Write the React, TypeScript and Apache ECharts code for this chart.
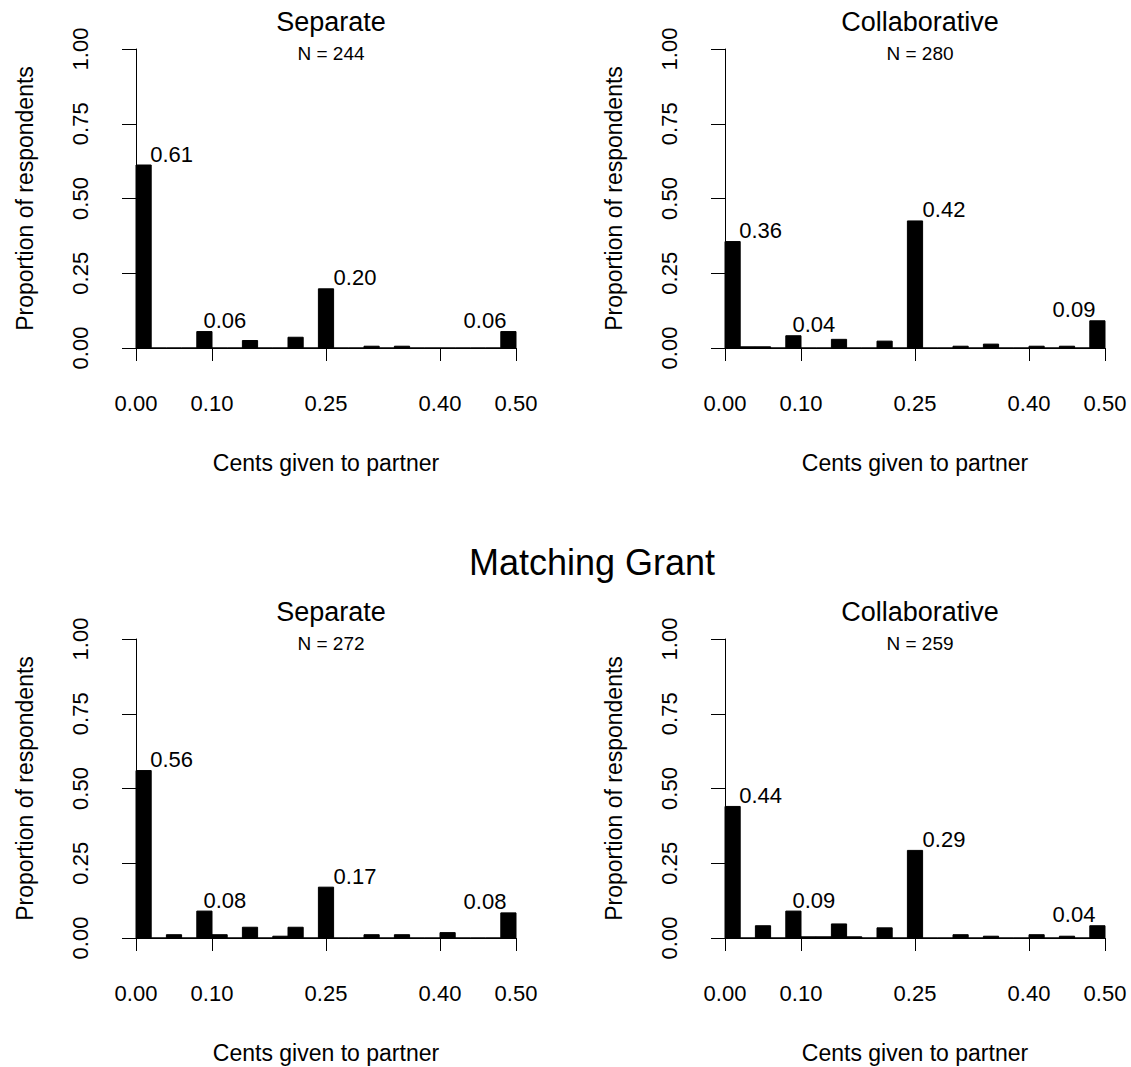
import React, { useEffect, useRef } from "react";
import * as echarts from "echarts";

// ---------- data ----------
const binStarts = [
  0.0, 0.02, 0.04, 0.06, 0.08, 0.1, 0.12, 0.14, 0.16, 0.18, 0.2, 0.22, 0.24,
  0.26, 0.28, 0.3, 0.32, 0.34, 0.36, 0.38, 0.4, 0.42, 0.44, 0.46, 0.48,
];
const binWidth = 0.02;

// proportions per bin (25 bins of 2 cents)
const separateNoGrant = [
  0.612, 0, 0, 0, 0.055, 0, 0, 0.025, 0, 0, 0.036, 0, 0.198, 0, 0, 0.006, 0,
  0.006, 0, 0, 0, 0, 0, 0, 0.055,
];
const collabNoGrant = [
  0.356, 0.004, 0.004, 0, 0.041, 0, 0, 0.029, 0, 0, 0.023, 0, 0.425, 0, 0,
  0.006, 0, 0.013, 0, 0, 0.006, 0, 0.006, 0, 0.091,
];
const separateGrant = [
  0.56, 0, 0.011, 0, 0.09, 0.011, 0, 0.036, 0, 0.006, 0.036, 0, 0.17, 0, 0,
  0.011, 0, 0.011, 0, 0, 0.018, 0, 0, 0, 0.084,
];
const collabGrant = [
  0.44, 0, 0.041, 0, 0.09, 0.004, 0.004, 0.047, 0.004, 0, 0.034, 0, 0.293, 0,
  0, 0.011, 0, 0.006, 0, 0, 0.011, 0, 0.006, 0, 0.041,
];

const labeledBins = [0, 4, 12, 24];
const labelsSeparateNoGrant = ["0.61", "0.06", "0.20", "0.06"];
const labelsCollabNoGrant = ["0.36", "0.04", "0.42", "0.09"];
const labelsSeparateGrant = ["0.56", "0.08", "0.17", "0.08"];
const labelsCollabGrant = ["0.44", "0.09", "0.29", "0.04"];

const panelTitles = ["Separate", "Collaborative", "Separate", "Collaborative"];
const panelNs = [244, 280, 272, 259];
const superTitle = "Matching Grant";
const xTitle = "Cents given to partner";
const yTitle = "Proportion of respondents";
const xTicks = [0, 0.1, 0.25, 0.4, 0.5];

// ---------- layout ----------
const FONT = "'Liberation Sans', Arial, Helvetica, sans-serif";
const gridLefts = [136, 725, 136, 725];
const gridTops = [49, 49, 639, 639];
const GRID_W = 380;
const GRID_H = 299;

export default function App() {
  const ref = useRef<HTMLDivElement>(null);

  useEffect(() => {
    if (!ref.current) return;
    const chart = echarts.init(ref.current, undefined, { renderer: "svg" });

    const panelValues = [separateNoGrant, collabNoGrant, separateGrant, collabGrant];
    const panelLabels = [
      labelsSeparateNoGrant,
      labelsCollabNoGrant,
      labelsSeparateGrant,
      labelsCollabGrant,
    ];

    const grids = gridLefts.map((l, i) => ({
      left: l,
      top: gridTops[i],
      width: GRID_W,
      height: GRID_H,
      containLabel: false,
    }));

    const xAxes = gridLefts.map((_, i) => ({
      type: "value",
      gridIndex: i,
      min: 0,
      max: 0.5,
      offset: 13,
      name: xTitle,
      nameLocation: "middle",
      nameGap: 90,
      nameTextStyle: { fontFamily: FONT, fontSize: 23, color: "#000" },
      axisLine: { show: true, lineStyle: { color: "#000", width: 1 } },
      axisTick: {
        show: true,
        inside: false,
        length: 13,
        customValues: xTicks,
        lineStyle: { color: "#000", width: 1 },
      },
      axisLabel: {
        show: true,
        customValues: xTicks,
        margin: 31,
        fontFamily: FONT,
        fontSize: 22,
        color: "#000",
        formatter: (v: number) => v.toFixed(2),
      },
      splitLine: { show: false },
    }));

    const yAxes = gridLefts.map((_, i) => ({
      type: "value",
      gridIndex: i,
      min: 0,
      max: 1,
      interval: 0.25,
      offset: 14,
      name: yTitle,
      nameLocation: "middle",
      nameGap: 86,
      nameTextStyle: { fontFamily: FONT, fontSize: 23, color: "#000" },
      axisLine: { show: true, lineStyle: { color: "#000", width: 1 } },
      axisTick: {
        show: true,
        inside: false,
        length: 14,
        lineStyle: { color: "#000", width: 1 },
      },
      axisLabel: {
        show: true,
        rotate: 90,
        margin: 31,
        fontFamily: FONT,
        fontSize: 22,
        color: "#000",
        formatter: (v: number) => v.toFixed(2),
      },
      splitLine: { show: false },
    }));

    const series: any[] = [];
    panelValues.forEach((vals, i) => {
      series.push({
        type: "custom",
        xAxisIndex: i,
        yAxisIndex: i,
        clip: false,
        data: binStarts.map((b, k) => [b, b + binWidth, vals[k]]),
        renderItem: (params: any, api: any) => {
          const x0 = api.value(0);
          const x1 = api.value(1);
          const v = api.value(2);
          const p0 = api.coord([x0, v]);
          const p1 = api.coord([x1, 0]);
          return {
            type: "rect",
            shape: {
              x: p0[0],
              y: p0[1],
              width: p1[0] - p0[0],
              height: p1[1] - p0[1],
            },
            style: { fill: "#000", stroke: "#000", lineWidth: 1 },
          };
        },
      });
      const labs = panelLabels[i];
      series.push({
        type: "custom",
        xAxisIndex: i,
        yAxisIndex: i,
        clip: false,
        data: labeledBins.map((b) => [binStarts[b], binStarts[b] + binWidth, vals[b]]),
        renderItem: (params: any, api: any) => {
          const idx = params.dataIndex;
          const x0 = api.value(0);
          const x1 = api.value(1);
          const v = api.value(2);
          const pl = api.coord([x0, v]);
          const pr = api.coord([x1, v]);
          const cx = (pl[0] + pr[0]) / 2;
          let x = pr[0] - 1;
          let align = "left";
          if (idx === 1) x = cx - 1;
          if (idx === 2) x = pr[0];
          if (idx === 3) {
            x = cx - 2;
            align = "right";
          }
          return {
            type: "text",
            x,
            y: pl[1],
            style: {
              text: labs[idx],
              fill: "#000",
              fontFamily: FONT,
              fontSize: 22,
              align,
              verticalAlign: "bottom",
            },
          };
        },
      });
    });

    const titleGraphics: any[] = [];
    gridLefts.forEach((l, i) => {
      const cx = l - 10 + 410 / 2;
      titleGraphics.push({
        type: "text",
        x: cx,
        y: gridTops[i] - 27,
        style: {
          text: panelTitles[i],
          fill: "#000",
          fontFamily: FONT,
          fontSize: 27,
          align: "center",
          verticalAlign: "middle",
        },
      });
      titleGraphics.push({
        type: "text",
        x: cx,
        y: gridTops[i] + 4,
        style: {
          text: "N = " + panelNs[i],
          fill: "#000",
          fontFamily: FONT,
          fontSize: 19,
          align: "center",
          verticalAlign: "middle",
        },
      });
    });
    titleGraphics.push({
      type: "text",
      x: 592,
      y: 562,
      style: {
        text: superTitle,
        fill: "#000",
        fontFamily: FONT,
        fontSize: 36,
        align: "center",
        verticalAlign: "middle",
      },
    });

    chart.setOption({
      animation: false,
      backgroundColor: "#fff",
      grid: grids,
      xAxis: xAxes,
      yAxis: yAxes,
      series,
      graphic: titleGraphics,
    });

    return () => chart.dispose();
  }, []);

  return (
    <div
      ref={ref}
      style={{ position: "absolute", left: 0, top: 0, width: 1131, height: 1067, background: "#fff" }}
    />
  );
}
